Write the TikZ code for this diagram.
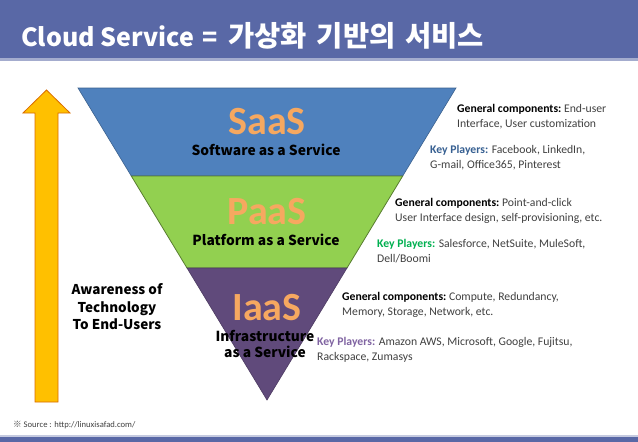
\documentclass[tikz,border=0pt]{standalone}
\usepackage{fontspec}
\setmainfont{Carlito}
\newfontfamily\krfont{Noto Sans CJK KR}
\usetikzlibrary{shapes,backgrounds}
\definecolor{titlebar}{RGB}{89,104,166}
\definecolor{saasblue}{RGB}{79,129,189}
\definecolor{paasgreen}{RGB}{146,208,80}
\definecolor{iaaspurple}{RGB}{96,74,123}
\definecolor{arroworange}{RGB}{255,192,0}
\definecolor{labelorange}{RGB}{246,168,96}
\definecolor{keyblue}{RGB}{55,96,146}
\definecolor{keygreen}{RGB}{0,176,80}
\definecolor{keypurple}{RGB}{128,100,162}
\definecolor{infogray}{RGB}{64,64,64}

\begin{document}
\begin{tikzpicture}[x=1pt, y=-1pt,
  big/.style={font=\fontsize{40}{40}\selectfont\bfseries, text=labelorange, inner sep=0pt},
  sub/.style={font=\krfont\fontsize{13.8}{16.5}\selectfont\bfseries, align=center, inner sep=0pt},
  info/.style={font=\fontsize{11.7}{15}\selectfont, text=infogray, anchor=west, align=left, inner sep=0pt}]

\useasboundingbox (0,0) rectangle (638,442);
\fill[white] (0,0) rectangle (638,442);
\fill[titlebar] (0,0) rectangle (638,58);
\fill[titlebar!55] (0,58) rectangle (638,61);
\fill[titlebar!35] (0,435) rectangle (638,437);
\fill[titlebar] (0,437) rectangle (638,442);

\node[anchor=west, text=white, inner sep=0pt, font=\krfont\fontsize{25}{25}\selectfont\bfseries] (title) at (21,36)
  {Cloud Service\hspace{9pt}=\hspace{10pt}{\fontsize{28.5}{28.5}\selectfont 가상화\hspace{10pt}기반의\hspace{10pt}서비스}};

% arrow on the left
\filldraw[fill=arroworange, draw=orange!85!black, line width=0.8pt]
  (46.5,90) -- (70,113) -- (58,113) -- (58,402) -- (35,402) -- (35,113) -- (23,113) -- cycle;
\node[sub, font=\krfont\fontsize{13.5}{17.5}\selectfont\bfseries] (aware) at (117,307) {Awareness of\\Technology\\To End-Users};

% inverted pyramid
\filldraw[fill=saasblue, draw=saasblue!75!black, line width=0.6pt] (78,88) -- (456,88) -- (402.7,176) -- (131.3,176) -- cycle;
\filldraw[fill=paasgreen, draw=paasgreen!60!black, line width=0.8pt] (131.3,176) -- (402.7,176) -- (347,268) -- (187,268) -- cycle;
\filldraw[fill=iaaspurple, draw=iaaspurple!80!black, line width=0.6pt] (187,268) -- (347,268) -- (267,400) -- cycle;

\node[big] (saas) at (267,122) {SaaS};
\node[sub] (saassub) at (266,150) {Software as a Service};
\node[big] (paas) at (267,212) {PaaS};
\node[sub] (paassub) at (266,240) {Platform as a Service};
\node[big] (iaas) at (267,308) {IaaS};
\node[sub] (iaassub) at (265,344) {Infrastructure\\as a Service};

% descriptions
\node[info] (saasgen) at (457,117) {\textbf{\color{black}General components:}\ End-user\\Interface, User customization};
\node[info] (saaskey) at (430,158) {\textbf{\color{keyblue}Key Players:} Facebook, LinkedIn,\\G-mail, Office365, Pinterest};
\node[info] (paasgen) at (395,211) {\textbf{\color{black}General components:}\ Point-and-click\\User Interface design, self-provisioning, etc.};
\node[info] (paaskey) at (377,251) {\textbf{\color{keygreen}Key Players:} Salesforce, NetSuite, MuleSoft,\\Dell/Boomi};
\node[info] (iaasgen) at (342,305) {\textbf{\color{black}General components:}\ Compute, Redundancy,\\Memory, Storage, Network, etc.};
\node[info] (iaaskey) at (317,350) {\textbf{\color{keypurple}Key Players:} Amazon AWS, Microsoft, Google, Fujitsu,\\Rackspace, Zumasys};

\node[anchor=west, inner sep=0pt, text=infogray, font=\fontsize{8.6}{10}\selectfont] (source) at (13,425) {{\krfont ※} Source : http://linuxisafad.com/};
\end{tikzpicture}
\end{document}
